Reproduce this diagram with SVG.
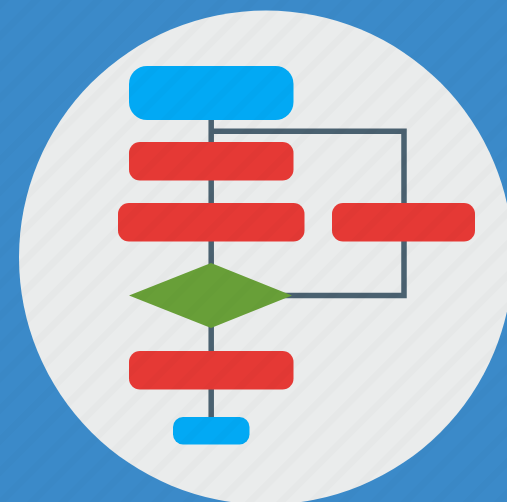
<svg xmlns="http://www.w3.org/2000/svg" width="507" height="502" viewBox="0 0 507 502">
<style>
.line{fill:none;stroke:#4a6170;stroke-width:5.500}
.blue{fill:#02a9f4}
.red{fill:#e53935}
.green{fill:#689f38}
</style>
<defs>
<pattern id="stripes" width="22" height="22" patternUnits="userSpaceOnUse" patternTransform="rotate(-45)">
<rect x="0" y="0" width="22" height="7" fill="#000" fill-opacity="0.014"/>
</pattern>
</defs>
<rect id="background" width="507" height="502" fill="#3b8ac9"/>
<circle id="disc" cx="266" cy="257.500" r="247" fill="#eaecec"/>
<g id="connectors">
<path class="line" d="M211.200 100V430"/>
<path class="line" d="M211 131.200H404V295.500H280"/>
</g>
<g id="start"><rect class="blue" x="129" y="66" width="164.500" height="54" rx="18"/></g>
<g id="step1"><rect class="red" x="129" y="142" width="164.500" height="38.500" rx="11"/></g>
<g id="step2"><rect class="red" x="118" y="203" width="186.500" height="38.500" rx="11"/></g>
<g id="step3"><rect class="red" x="332" y="203" width="143" height="38.500" rx="11"/></g>
<g id="decision"><polygon class="green" points="129,295.500 211,263 292,295.500 211,328"/></g>
<g id="step4"><rect class="red" x="129" y="351" width="164.500" height="38.500" rx="11"/></g>
<g id="end"><rect class="blue" x="173" y="417" width="76.500" height="27.500" rx="10"/></g>
<rect id="stripe-overlay" width="507" height="502" fill="url(#stripes)"/>
</svg>
